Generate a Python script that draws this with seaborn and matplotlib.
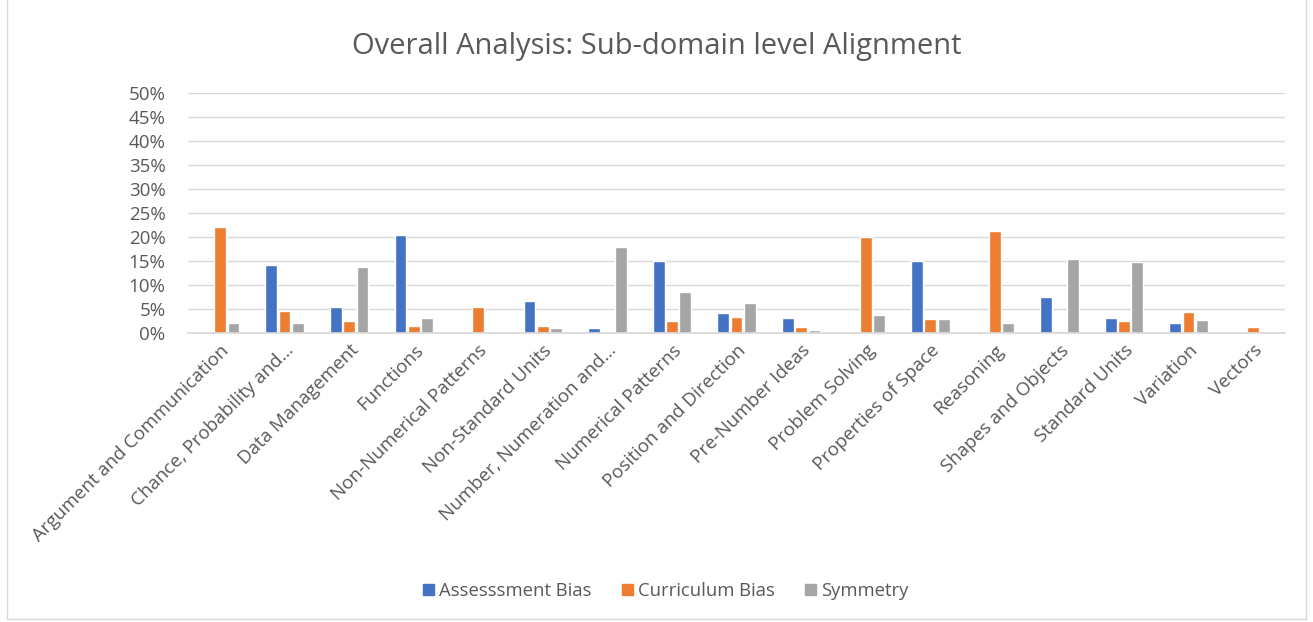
import matplotlib
matplotlib.use("Agg")
import matplotlib.pyplot as plt
import seaborn as sns
import pandas as pd
from matplotlib.patches import Rectangle
from matplotlib.ticker import FuncFormatter

categories = ["Argument and Communication", "Chance, Probability and…", "Data Management",
              "Functions", "Non-Numerical Patterns", "Non-Standard Units",
              "Number, Numeration and…", "Numerical Patterns", "Position and Direction",
              "Pre-Number Ideas", "Problem Solving", "Properties of Space", "Reasoning",
              "Shapes and Objects", "Standard Units", "Variation", "Vectors"]
assessment_bias = [0.0, 14.2, 5.4, 20.5, 0.0, 6.6, 1.0, 14.9, 4.1, 3.2, 0.0, 14.9, 0.0, 7.4, 3.2, 2.0, 0.0]
curriculum_bias = [22.0, 4.5, 2.6, 1.4, 5.4, 1.4, 0.0, 2.5, 3.4, 1.3, 19.9, 2.9, 21.3, 0.4, 2.5, 4.3, 1.3]
symmetry = [2.1, 2.1, 13.7, 3.1, 0.0, 1.0, 18.0, 8.6, 6.3, 0.6, 3.7, 2.9, 2.1, 15.4, 14.7, 2.7, 0.0]
series_names = ["Assesssment Bias", "Curriculum Bias", "Symmetry"]
colors = ["#4472C4", "#ED7D31", "#A5A5A5"]

rows = []
for name, vals in zip(series_names, [assessment_bias, curriculum_bias, symmetry]):
    for c, v in zip(categories, vals):
        rows.append({"cat": c, "series": name, "value": v})
df = pd.DataFrame(rows)

sns.set_theme(style="white")
plt.rcParams["font.family"] = ["Open Sans", "DejaVu Sans"]
txt = "#595959"

fig = plt.figure(figsize=(13.13, 6.22), dpi=100)
ax = fig.add_axes([0.143, 0.4646, 0.836, 0.3859])
sns.barplot(data=df, x="cat", y="value", hue="series", palette=colors,
            order=categories, hue_order=series_names, width=0.62, gap=0.12,
            ax=ax, legend=False, saturation=1)

ax.set_ylim(0, 50)
ax.set_yticks(range(0, 51, 5))
ax.yaxis.set_major_formatter(FuncFormatter(lambda v, p: f"{int(v)}%"))
ax.grid(axis="y", color="#D9D9D9", linewidth=1)
ax.set_axisbelow(True)
for s in ["top", "right", "left"]:
    ax.spines[s].set_visible(False)
ax.spines["bottom"].set_color("#D9D9D9")
ax.set_xlabel("")
ax.set_ylabel("")
ax.tick_params(axis="both", length=0, labelcolor=txt, labelsize=13.5)
ax.tick_params(axis="y", pad=16)
ax.tick_params(axis="x", pad=6)
plt.setp(ax.get_xticklabels(), rotation=45, ha="right", rotation_mode="anchor")
ax.set_xlim(-0.5, len(categories) - 0.5)

fig.text(0.5, 0.925, "Overall Analysis: Sub-domain level Alignment", ha="center", va="center",
         fontsize=21, color=txt)

handles = [Rectangle((0, 0), 1, 1, color=c) for c in colors]
fig.legend(handles, series_names, loc="center", bbox_to_anchor=(0.507, 0.05), ncol=3,
           frameon=False, fontsize=13.3, labelcolor=txt, handlelength=0.6, handleheight=0.6,
           handletextpad=0.3, columnspacing=1.6)

fig.patches.append(Rectangle((0.005, 0.005), 0.99, 1.1, transform=fig.transFigure,
                             fill=False, edgecolor="#D9D9D9", linewidth=1))

fig.savefig("out.png", dpi=100)
